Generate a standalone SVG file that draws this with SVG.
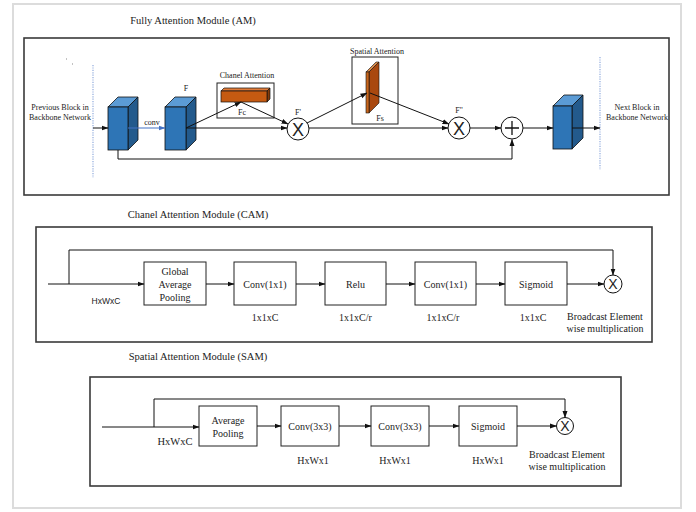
<svg xmlns="http://www.w3.org/2000/svg" width="696" height="512" viewBox="0 0 696 512">
<style>
.t{font-family:"Liberation Serif","Times New Roman",serif;fill:#222;text-anchor:middle}
.s{font-family:"Liberation Sans",Arial,sans-serif;fill:#222;text-anchor:middle}
.big{font-size:10.5px}
.sm{font-size:8px}
.box{fill:#fff;stroke:#222;stroke-width:1}
.mod{fill:none;stroke:#3a3a3a;stroke-width:1.6}
.ln{fill:none;stroke:#111;stroke-width:1}
.arr{fill:none;stroke:#111;stroke-width:1;marker-end:url(#ah)}
.blue{fill:none;stroke:#4472c4;stroke-width:1.2;marker-end:url(#ahb)}
.dot{stroke:#8faadc;stroke-width:1.2;stroke-dasharray:1.2 1.2}
.cf{fill:#2e75b6;stroke:#111;stroke-width:0.8}
.ct{fill:#5b9bd5;stroke:#111;stroke-width:0.8}
.cs{fill:#235a8c;stroke:#111;stroke-width:0.8}
.circ{fill:#fff;stroke:#111;stroke-width:1}
</style>
<defs>
<marker id="ah" markerWidth="7" markerHeight="6" refX="6.5" refY="3" orient="auto" markerUnits="userSpaceOnUse"><path d="M0,0.5 L7,3 L0,5.5 z" fill="#111"/></marker>
<marker id="ahb" markerWidth="7" markerHeight="6" refX="6.5" refY="3" orient="auto" markerUnits="userSpaceOnUse"><path d="M0,0.5 L7,3 L0,5.5 z" fill="#4472c4"/></marker>
</defs>
<rect x="0" y="0" width="696" height="512" fill="#fff"/>
<rect x="13" y="4" width="668" height="504" fill="none" stroke="#dcdcdc" stroke-width="2"/>

<!-- ===== Fully Attention Module ===== -->
<text class="t big" x="193" y="24">Fully Attention Module (AM)</text>
<rect class="mod" x="24" y="38" width="645" height="157" stroke-width="2"/>
<rect x="66" y="58.5" width="1" height="1" fill="#888"/>
<rect x="72" y="63.5" width="1" height="1" fill="#888"/>
<line class="dot" x1="93" y1="65" x2="93" y2="178"/>
<line class="dot" x1="600" y1="57" x2="600" y2="170"/>
<g id="prev-label">
<text class="t sm" x="60" y="110">Previous Block in</text>
<text class="t sm" x="60" y="120">Backbone Network</text>
</g>
<g id="next-label">
<text class="t sm" x="637" y="110">Next Block in</text>
<text class="t sm" x="637" y="120">Backbone Network</text>
</g>
<g id="cube1">
<polygon class="ct" points="108,107 128,107 138,97 118,97"/>
<polygon class="cs" points="128,107 138,97 138,140 128,150"/>
<rect class="cf" x="108" y="107" width="20" height="43"/>
</g>
<g id="cube2">
<polygon class="ct" points="165,107 186,107 196,97 175,97"/>
<polygon class="cs" points="186,107 196,97 196,140 186,150"/>
<rect class="cf" x="165" y="107" width="21" height="43"/>
<text class="t sm" x="186" y="91">F</text>
</g>
<g id="channel-attention">
<text class="t sm" x="247" y="78">Chanel Attention</text>
<rect class="box" x="217" y="83" width="57" height="35"/>
<polygon points="221,91 267,91 270,88 224,88" fill="#e07b39" stroke="#111" stroke-width="0.7"/>
<polygon points="267,91 270,88 270,99 267,102" fill="#843c0c" stroke="#111" stroke-width="0.7"/>
<rect x="221" y="91" width="46" height="11" fill="#c55a11" stroke="#111" stroke-width="0.7"/>
<text class="t sm" x="242" y="115">Fc</text>
</g>
<g id="mul1">
<circle class="circ" cx="298" cy="129" r="11"/>
<text class="s" x="298" y="135.5" font-size="18">X</text>
<text class="t sm" x="298" y="115">F'</text>
</g>
<g id="spatial-attention">
<text class="t sm" x="377" y="54">Spatial Attention</text>
<rect class="box" x="352" y="57" width="46" height="67"/>
<polygon points="366,72 369,72 379,62 376,62" fill="#d98a4a" stroke="#111" stroke-width="0.6"/>
<polygon points="369,72 379,62 379,103 369,113" fill="#a9480f" stroke="#111" stroke-width="0.6"/>
<rect x="366" y="72" width="3" height="41" fill="#c8661c" stroke="#111" stroke-width="0.6"/>
<text class="t sm" x="380" y="121">Fs</text>
</g>
<g id="mul2">
<circle class="circ" cx="459" cy="128" r="11"/>
<text class="s" x="459" y="134.5" font-size="18">X</text>
<text class="t sm" x="459" y="113">F''</text>
</g>
<g id="add">
<circle class="circ" cx="512" cy="128" r="11"/>
<path d="M505,128 H519 M512,121 V135" stroke="#111" stroke-width="1.3" fill="none"/>
</g>
<g id="cube3">
<polygon class="ct" points="553,106 572,106 583,95 564,95"/>
<polygon class="cs" points="572,106 583,95 583,138 572,149"/>
<rect class="cf" x="553" y="106" width="19" height="43"/>
</g>

<g id="am-connectors">
<line class="arr" x1="93" y1="128" x2="108" y2="128"/>
<line class="blue" x1="128" y1="128" x2="165" y2="128"/>
<text class="t sm" x="152" y="125">conv</text>
<line class="arr" x1="186" y1="128" x2="287" y2="128"/>
<line class="arr" x1="186" y1="128" x2="241" y2="102"/>
<line class="arr" x1="241" y1="102" x2="288" y2="124"/>
<line class="arr" x1="309" y1="128" x2="448" y2="128"/>
<line class="arr" x1="307" y1="123" x2="367" y2="93"/>
<line class="arr" x1="370" y1="93" x2="449" y2="124"/>
<line class="arr" x1="470" y1="128" x2="501" y2="128"/>
<line class="arr" x1="523" y1="128" x2="553" y2="128"/>
<line class="arr" x1="572" y1="128" x2="600" y2="128"/>
<polyline class="arr" points="118,150 118,159 512,159 512,139.5"/>
</g>

<!-- ===== Channel Attention Module ===== -->
<text class="t big" x="198" y="218">Chanel Attention Module (CAM)</text>
<rect class="mod" x="36" y="227" width="616" height="115"/>
<g id="cam-gap">
<rect class="box" x="144" y="262" width="62" height="43"/>
<text class="t" font-size="10" x="175" y="275">Global</text>
<text class="t" font-size="10" x="175" y="288">Average</text>
<text class="t" font-size="10" x="175" y="301">Pooling</text>
</g>
<g id="cam-conv1">
<rect class="box" x="234" y="262" width="62" height="43"/>
<text class="t" font-size="10" x="265" y="287.5">Conv(1x1)</text>
<text class="t" font-size="10" x="265" y="321">1x1xC</text>
</g>
<g id="cam-relu">
<rect class="box" x="325" y="262" width="61" height="43"/>
<text class="t" font-size="10" x="355.5" y="287.5">Relu</text>
<text class="t" font-size="10" x="355.5" y="321">1x1xC/r</text>
</g>
<g id="cam-conv2">
<rect class="box" x="415" y="262" width="61" height="43"/>
<text class="t" font-size="10" x="445.5" y="287.5">Conv(1x1)</text>
<text class="t" font-size="10" x="443" y="321">1x1xC/r</text>
</g>
<g id="cam-sigmoid">
<rect class="box" x="505" y="262" width="62" height="43"/>
<text class="t" font-size="10" x="536" y="287.5">Sigmoid</text>
<text class="t" font-size="10" x="533" y="321">1x1xC</text>
</g>
<g id="cam-mul">
<circle class="circ" cx="613" cy="284" r="9"/>
<text class="s" x="613" y="289" font-size="14">X</text>
<text class="t" font-size="10" x="605" y="320">Broadcast Element</text>
<text class="t" font-size="10" x="605" y="332">wise multiplication</text>
</g>
<text class="s" font-size="8.5" x="106" y="304">HxWxC</text>
<g id="cam-connectors">
<line class="arr" x1="48" y1="284" x2="144" y2="284"/>
<polyline class="arr" points="69,284 69,250 613,250 613,275"/>
<line class="arr" x1="206" y1="284" x2="234" y2="284"/>
<line class="arr" x1="296" y1="284" x2="325" y2="284"/>
<line class="arr" x1="386" y1="284" x2="415" y2="284"/>
<line class="arr" x1="476" y1="284" x2="505" y2="284"/>
<line class="arr" x1="567" y1="284" x2="604" y2="284"/>
</g>

<!-- ===== Spatial Attention Module ===== -->
<text class="t big" x="198" y="360">Spatial Attention Module (SAM)</text>
<rect class="mod" x="90" y="377" width="531" height="109"/>
<g id="sam-avgpool">
<rect class="box" x="199" y="406" width="58" height="40"/>
<text class="t" font-size="10" x="228" y="424">Average</text>
<text class="t" font-size="10" x="228" y="437">Pooling</text>
</g>
<g id="sam-conv1">
<rect class="box" x="281" y="406" width="58" height="40"/>
<text class="t" font-size="10" x="310" y="429.5">Conv(3x3)</text>
<text class="t" font-size="10" x="313" y="464">HxWx1</text>
</g>
<g id="sam-conv2">
<rect class="box" x="371" y="406" width="58" height="40"/>
<text class="t" font-size="10" x="400" y="429.5">Conv(3x3)</text>
<text class="t" font-size="10" x="395" y="464">HxWx1</text>
</g>
<g id="sam-sigmoid">
<rect class="box" x="459" y="406" width="58" height="40"/>
<text class="t" font-size="10" x="488" y="429.5">Sigmoid</text>
<text class="t" font-size="10" x="488" y="464">HxWx1</text>
</g>
<g id="sam-mul">
<circle class="circ" cx="565" cy="426" r="8.5"/>
<text class="s" x="565" y="431" font-size="14">X</text>
<text class="t" font-size="10" x="567" y="458">Broadcast Element</text>
<text class="t" font-size="10" x="567" y="470">wise multiplication</text>
</g>
<text class="t" font-size="10.5" x="175" y="445">HxWxC</text>
<g id="sam-connectors">
<line class="arr" x1="102" y1="427" x2="199" y2="427"/>
<polyline class="arr" points="154,427 154,399 565,399 565,417.5"/>
<line class="arr" x1="257" y1="426" x2="281" y2="426"/>
<line class="arr" x1="339" y1="426" x2="371" y2="426"/>
<line class="arr" x1="429" y1="426" x2="459" y2="426"/>
<line class="arr" x1="517" y1="426" x2="556.5" y2="426"/>
</g>
</svg>
